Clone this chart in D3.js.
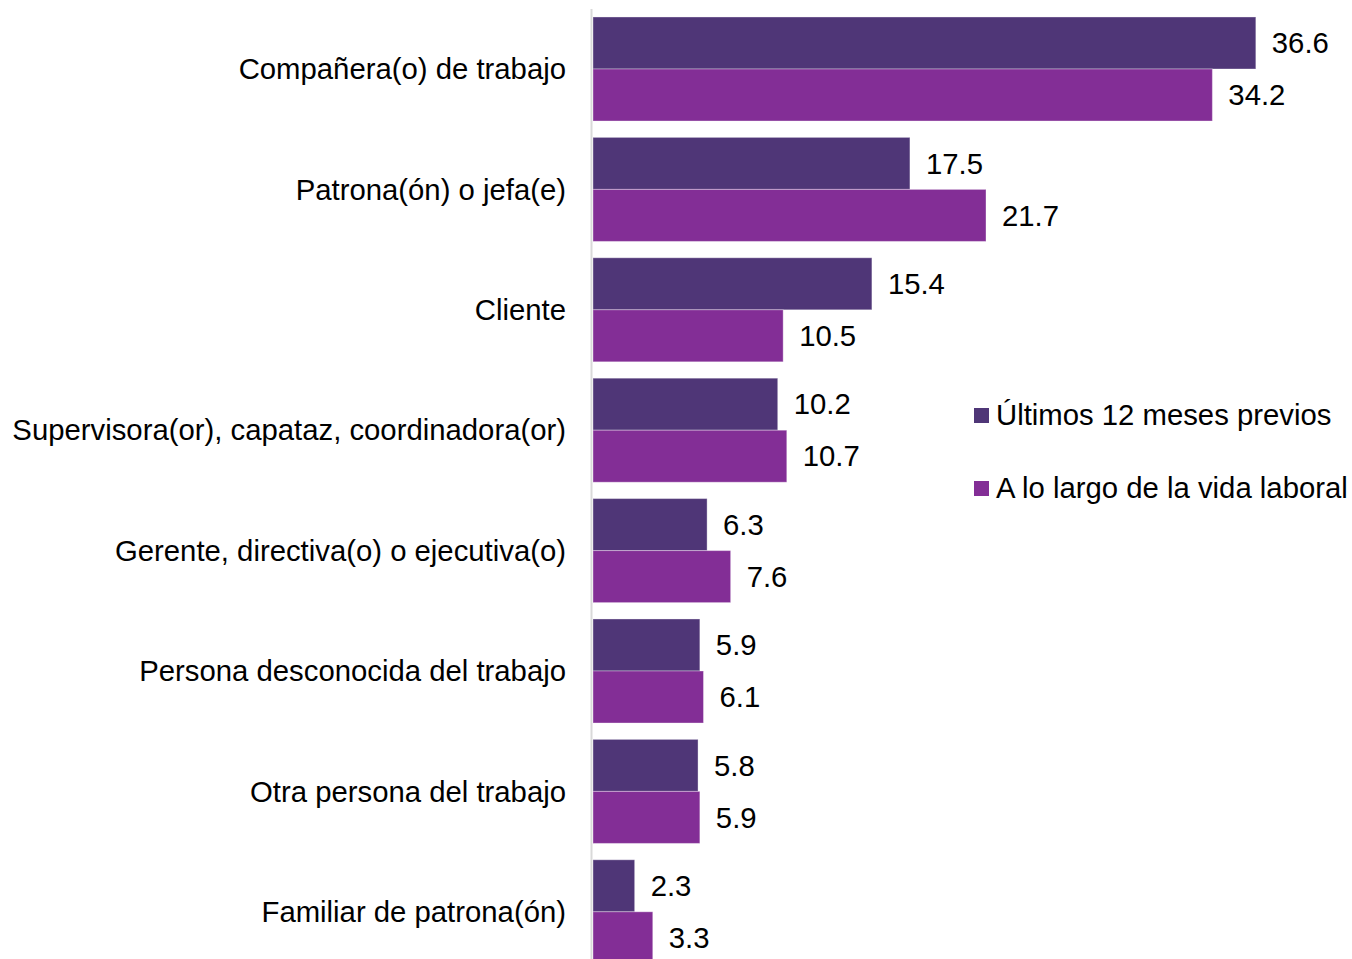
<!DOCTYPE html>
<html>
<head>
<meta charset="utf-8">
<script src="https://cdn.jsdelivr.net/npm/d3@7"></script>
<style>
  html, body { margin: 0; padding: 0; background: #fff; }
  svg { display: block; font-family: Arial, "Liberation Sans", sans-serif; }
</style>
</head>
<body>
<svg id="chart" width="1352" height="959"></svg>
<script>
// Agresor de la violencia laboral, por periodo de referencia (%)
const categories = [
  "Compañera(o) de trabajo",
  "Patrona(ón) o jefa(e)",
  "Cliente",
  "Supervisora(or), capataz, coordinadora(or)",
  "Gerente, directiva(o) o ejecutiva(o)",
  "Persona desconocida del trabajo",
  "Otra persona del trabajo",
  "Familiar de patrona(ón)"
];
const seriesNames = ["Últimos 12 meses previos", "A lo largo de la vida laboral"];
const ultimos12 = [36.6, 17.5, 15.4, 10.2, 6.3, 5.9, 5.8, 2.3];
const vidaLaboral = [34.2, 21.7, 10.5, 10.7, 7.6, 6.1, 5.9, 3.3];
const colors = ["#4f3677", "#832e96"];

const values = [ultimos12, vidaLaboral];
const rows = categories.map((c, i) => ({
  category: c,
  items: seriesNames.map((s, j) => ({ series: s, value: values[j][i] }))
}));

const FONT = 29.3;
const svg = d3.select("#chart");

const x = d3.scaleLinear().domain([0, 40]).range([593, 593 + 40 * 18.11]);
const y = d3.scaleBand()
  .domain(categories)
  .range([8.8, 972])
  .paddingInner(0.136)
  .paddingOuter(0.068);
const ySub = d3.scaleBand().domain(seriesNames).range([0, y.bandwidth()]).padding(0);
const color = d3.scaleOrdinal().domain(seriesNames).range(colors);

// Vertical baseline
svg.append("line")
  .attr("x1", 591.5).attr("x2", 591.5)
  .attr("y1", 9).attr("y2", 959)
  .attr("stroke", "#d9d9d9").attr("stroke-width", 2);

const groups = svg.append("g").selectAll("g")
  .data(rows).join("g")
  .attr("transform", d => `translate(0,${y(d.category)})`);

groups.selectAll("rect")
  .data(d => d.items).join("rect")
  .attr("x", x(0))
  .attr("y", d => ySub(d.series))
  .attr("width", d => x(d.value) - x(0))
  .attr("height", ySub.bandwidth())
  .attr("fill", d => color(d.series))
  .attr("stroke", "rgba(255,255,255,0.35)")
  .attr("stroke-width", 1);

groups.selectAll("text.val")
  .data(d => d.items).join("text")
  .attr("class", "val")
  .attr("x", d => x(d.value) + 16)
  .attr("y", d => ySub(d.series) + ySub.bandwidth() / 2)
  .attr("dy", "0.35em")
  .attr("font-size", FONT)
  .attr("fill", "#000")
  .text(d => d3.format(".1f")(d.value));

// Category labels
svg.append("g").selectAll("text")
  .data(categories).join("text")
  .attr("x", 566)
  .attr("y", d => y(d) + y.bandwidth() / 2)
  .attr("dy", "0.35em")
  .attr("text-anchor", "end")
  .attr("font-size", FONT)
  .attr("fill", "#000")
  .text(d => d);

// Legend
const legend = svg.append("g").selectAll("g")
  .data(seriesNames).join("g")
  .attr("transform", (d, i) => `translate(974,${415 + i * 73})`);
legend.append("rect")
  .attr("x", 0).attr("y", -7)
  .attr("width", 15).attr("height", 15)
  .attr("fill", d => color(d));
legend.append("text")
  .attr("x", 22).attr("y", 0)
  .attr("dy", "0.35em")
  .attr("font-size", FONT)
  .attr("fill", "#000")
  .text(d => d);
</script>
</body>
</html>
